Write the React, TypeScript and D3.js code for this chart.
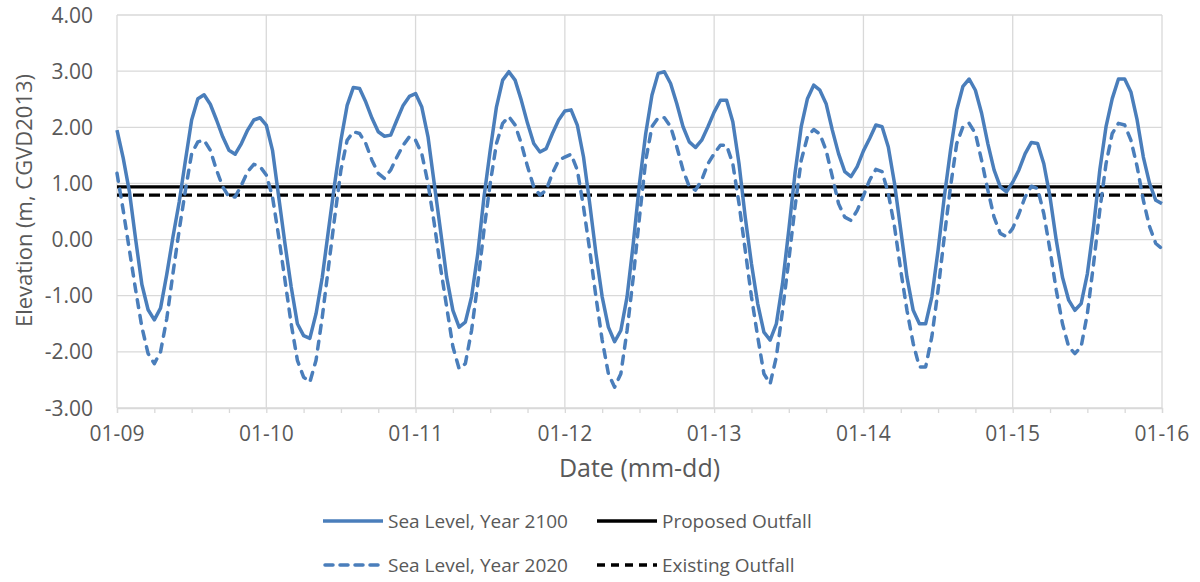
import React, { useEffect, useRef } from "react";
import * as d3 from "d3";

// hourly readings, 01-09 00:00 to 01-16 00:00
const startDate = new Date(Date.UTC(2021, 0, 9));
const endDate = new Date(Date.UTC(2021, 0, 16));

const dayLabels = ["01-09", "01-10", "01-11", "01-12", "01-13", "01-14", "01-15", "01-16"];
const yTickValues = [-3, -2, -1, 0, 1, 2, 3, 4];

const seaLevel2100 = [
  1.95, 1.45, 0.85, 0.0, -0.8, -1.25, -1.43, -1.22, -0.62, 0.05, 0.67, 1.41, 2.13, 2.51, 2.58, 2.41, 2.13, 1.83, 1.59, 1.52, 1.71, 1.95, 2.13, 2.17,
  2.04, 1.59, 0.76, -0.07, -0.84, -1.5, -1.71, -1.76, -1.32, -0.67, 0.17, 1.0, 1.77, 2.39, 2.71, 2.69, 2.45, 2.16, 1.92, 1.84, 1.86, 2.13, 2.39, 2.55,
  2.6, 2.36, 1.83, 1.0, 0.17, -0.67, -1.26, -1.56, -1.47, -1.02, -0.25, 0.76, 1.59, 2.36, 2.84, 2.99, 2.84, 2.48, 2.07, 1.71, 1.56, 1.62, 1.89, 2.13,
  2.29, 2.31, 2.04, 1.47, 0.64, -0.25, -1.02, -1.56, -1.82, -1.62, -1.02, -0.07, 1.0, 1.89, 2.57, 2.96, 2.99, 2.78, 2.42, 2.01, 1.74, 1.64, 1.77, 2.01,
  2.27, 2.48, 2.48, 2.1, 1.35, 0.4, -0.43, -1.14, -1.65, -1.79, -1.5, -0.78, 0.17, 1.18, 2.01, 2.51, 2.75, 2.66, 2.42, 1.95, 1.53, 1.21, 1.12, 1.3,
  1.58, 1.8, 2.04, 2.01, 1.65, 1.0, 0.17, -0.67, -1.26, -1.5, -1.5, -1.02, -0.19, 0.76, 1.59, 2.31, 2.73, 2.86, 2.66, 2.25, 1.71, 1.24, 0.94, 0.85,
  1.02, 1.24, 1.53, 1.73, 1.71, 1.35, 0.76, -0.01, -0.67, -1.08, -1.26, -1.14, -0.61, 0.23, 1.24, 2.01, 2.51, 2.86, 2.86, 2.63, 2.13, 1.47, 1.0, 0.7,
  0.64,
];

const seaLevel2020 = [
  1.18, 0.52, -0.19, -0.9, -1.56, -2.03, -2.21, -2.0, -1.41, -0.6, 0.17, 0.88, 1.53, 1.74, 1.77, 1.59, 1.24, 0.94, 0.76, 0.76, 0.97, 1.21, 1.34, 1.3,
  1.15, 0.76, 0.05, -0.72, -1.5, -2.15, -2.45, -2.54, -2.15, -1.38, -0.49, 0.4, 1.24, 1.77, 1.92, 1.89, 1.71, 1.41, 1.18, 1.09, 1.24, 1.47, 1.68, 1.83,
  1.77, 1.53, 1.0, 0.29, -0.49, -1.2, -1.91, -2.3, -2.21, -1.62, -0.78, 0.17, 1.0, 1.71, 2.07, 2.19, 2.04, 1.71, 1.3, 0.94, 0.79, 0.88, 1.18, 1.41,
  1.47, 1.52, 1.24, 0.58, -0.19, -1.02, -1.79, -2.39, -2.63, -2.39, -1.62, -0.67, 0.4, 1.41, 2.01, 2.17, 2.17, 2.01, 1.65, 1.24, 0.94, 0.88, 1.06, 1.35,
  1.53, 1.68, 1.68, 1.35, 0.64, -0.19, -1.02, -1.73, -2.39, -2.57, -2.09, -1.26, -0.37, 0.58, 1.41, 1.83, 1.96, 1.88, 1.59, 1.12, 0.64, 0.4, 0.34, 0.52,
  0.78, 1.06, 1.25, 1.21, 0.82, 0.23, -0.55, -1.26, -1.85, -2.27, -2.27, -1.73, -0.9, 0.05, 0.94, 1.71, 2.01, 2.07, 1.89, 1.41, 0.88, 0.4, 0.11, 0.05,
  0.2, 0.46, 0.76, 0.95, 0.91, 0.46, -0.19, -0.9, -1.5, -1.91, -2.03, -1.91, -1.32, -0.43, 0.52, 1.35, 1.89, 2.07, 2.04, 1.77, 1.3, 0.7, 0.23, -0.07,
  -0.16,
];

const proposedOutfall = 0.94;
const existingOutfall = 0.79;

const legendNames = ["Sea Level, Year 2100", "Proposed Outfall", "Sea Level, Year 2020", "Existing Outfall"];

const BLUE = "#4a7ebb";
const TEXT = "#595959";
const GRID = "#d9d9d9";
const FONT = "'Open Sans', sans-serif";

const App = () => {
  const svgRef = useRef(null);

  useEffect(() => {
    const width = 1200;
    const height = 582;
    const margin = { top: 15, right: 38, bottom: 174, left: 117 };
    const innerW = width - margin.left - margin.right;
    const innerH = height - margin.top - margin.bottom;

    const svg = d3.select(svgRef.current).attr("width", width).attr("height", height);
    svg.selectAll("*").remove();

    const x = d3.scaleUtc().domain([startDate, endDate]).range([0, innerW]);
    const y = d3.scaleLinear().domain([-3, 4]).range([innerH, 0]);

    const hourTime = (i) => new Date(startDate.getTime() + i * 3600 * 1000);

    const g = svg.append("g").attr("transform", `translate(${margin.left},${margin.top})`);

    const days = d3.utcDay.range(startDate, d3.utcDay.offset(endDate, 1));

    // grid
    g.selectAll(".hgrid")
      .data(yTickValues)
      .join("line")
      .attr("x1", 0)
      .attr("x2", innerW)
      .attr("y1", (d) => y(d))
      .attr("y2", (d) => y(d))
      .attr("stroke", GRID)
      .attr("stroke-width", 1.3);

    g.selectAll(".vgrid")
      .data(days)
      .join("line")
      .attr("x1", (d) => x(d))
      .attr("x2", (d) => x(d))
      .attr("y1", 0)
      .attr("y2", innerH)
      .attr("stroke", GRID)
      .attr("stroke-width", 1.3);

    // x axis
    const xAxis = g
      .append("g")
      .attr("transform", `translate(0,${innerH})`)
      .call(
        d3
          .axisBottom(x)
          .ticks(d3.utcHour.every(6))
          .tickSize(5)
          .tickFormat(() => "")
      );
    xAxis.select(".domain").attr("stroke", GRID).attr("stroke-width", 1.3);
    xAxis.selectAll(".tick line").attr("stroke", GRID).attr("stroke-width", 1.3);

    g.append("g")
      .selectAll("text")
      .data(days)
      .join("text")
      .attr("x", (d) => x(d))
      .attr("y", innerH + 33)
      .attr("text-anchor", "middle")
      .attr("font-family", FONT)
      .attr("font-size", 21)
      .attr("fill", TEXT)
      .text((d, i) => dayLabels[i]);

    // y labels
    g.append("g")
      .selectAll("text")
      .data(yTickValues)
      .join("text")
      .attr("x", -24)
      .attr("y", (d) => y(d))
      .attr("dy", "0.36em")
      .attr("text-anchor", "end")
      .attr("font-family", FONT)
      .attr("font-size", 21)
      .attr("fill", TEXT)
      .text((d) => d.toFixed(2));

    // axis titles
    svg
      .append("text")
      .attr("transform", `translate(32,${margin.top + innerH / 2 - 11}) rotate(-90)`)
      .attr("text-anchor", "middle")
      .attr("font-family", FONT)
      .attr("font-size", 22)
      .attr("fill", TEXT)
      .text("Elevation (m, CGVD2013)");

    svg
      .append("text")
      .attr("x", margin.left + innerW / 2)
      .attr("y", 477)
      .attr("text-anchor", "middle")
      .attr("font-family", FONT)
      .attr("font-size", 25)
      .attr("fill", TEXT)
      .text("Date (mm-dd)");

    // outfall levels
    g.append("line")
      .attr("x1", 0)
      .attr("x2", innerW)
      .attr("y1", y(proposedOutfall))
      .attr("y2", y(proposedOutfall))
      .attr("stroke", "#000")
      .attr("stroke-width", 3.2);

    g.append("line")
      .attr("x1", 0)
      .attr("x2", innerW)
      .attr("y1", y(existingOutfall))
      .attr("y2", y(existingOutfall))
      .attr("stroke", "#000")
      .attr("stroke-width", 3.2)
      .attr("stroke-dasharray", "11,5");

    const line = d3
      .line()
      .x((d, i) => x(hourTime(i)))
      .y((d) => y(d));

    g.append("path")
      .datum(seaLevel2020)
      .attr("d", line)
      .attr("fill", "none")
      .attr("stroke", BLUE)
      .attr("stroke-width", 3.5)
      .attr("stroke-linejoin", "round")
      .attr("stroke-linecap", "round")
      .attr("stroke-dasharray", "8,8");

    g.append("path")
      .datum(seaLevel2100)
      .attr("d", line)
      .attr("fill", "none")
      .attr("stroke", BLUE)
      .attr("stroke-width", 3.5)
      .attr("stroke-linejoin", "round");

    // legend
    const legendStyles = [
      { color: BLUE, dash: null, cap: "butt" },
      { color: "#000", dash: null, cap: "butt" },
      { color: BLUE, dash: "8,7", cap: "round" },
      { color: "#000", dash: "8,6", cap: "butt" },
    ];
    const legend = svg.append("g");
    legendNames.forEach((name, i) => {
      const col = i % 2;
      const row = Math.floor(i / 2);
      const lx = col === 0 ? 323 : 597;
      const ly = row === 0 ? 521 : 565;
      const st = legendStyles[i];
      legend
        .append("line")
        .attr("x1", lx + (st.cap === "round" ? 2 : 0))
        .attr("x2", lx + 60)
        .attr("y1", ly)
        .attr("y2", ly)
        .attr("stroke", st.color)
        .attr("stroke-width", 3.5)
        .attr("stroke-linecap", st.cap)
        .attr("stroke-dasharray", st.dash);
      legend
        .append("text")
        .attr("x", lx + 65)
        .attr("y", ly)
        .attr("dy", "0.36em")
        .attr("font-family", FONT)
        .attr("font-size", 19)
        .attr("fill", TEXT)
        .text(name);
    });
  }, []);

  return (
    <div style={{ position: "fixed", left: 0, top: 0, background: "#fff" }}>
      <svg ref={svgRef} style={{ display: "block" }}></svg>
    </div>
  );
};

export default App;
